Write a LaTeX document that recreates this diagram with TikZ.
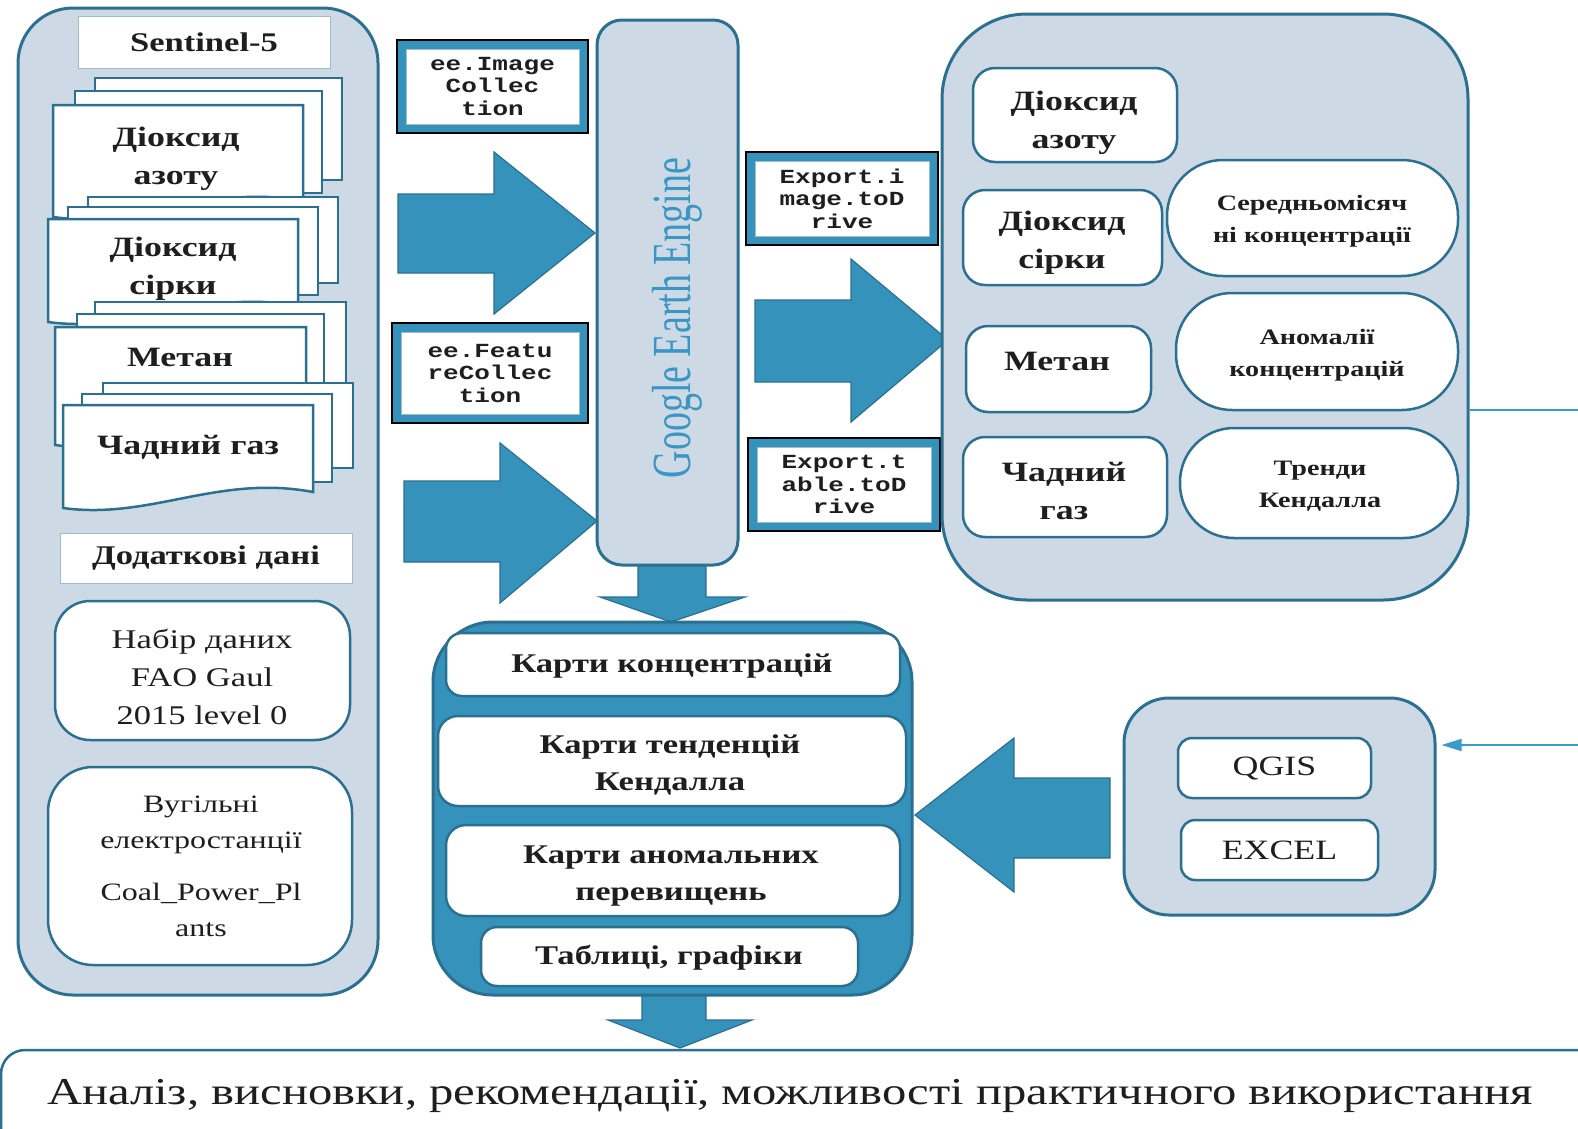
\documentclass[tikz,border=0pt]{standalone}
\usepackage{fontspec}
\setmainfont{Liberation Serif}[FakeStretch=1.28]
\setmonofont{Liberation Mono}[FakeStretch=1.3]
\newfontfamily\geefont{Liberation Serif}
\usetikzlibrary{arrows.meta,fit}
\definecolor{panelfill}{HTML}{CDDAE5}
\definecolor{edge}{HTML}{2B7090}
\definecolor{arrowfill}{HTML}{3592BA}
\definecolor{geeblue}{HTML}{3C96C4}
\definecolor{txt}{HTML}{1E1E1E}
\definecolor{thinedge}{HTML}{9FBCCB}
\definecolor{lineblue}{HTML}{3A9AC8}
\newcommand\frontsheet[4]{%
  \filldraw[sheet] (#1,#2) -- (#3,#2) -- (#3,{#4-16}) .. controls ({#1+0.62*(#3-#1)},{#4-34}) and ({#1+0.35*(#3-#1)},{#4+12}) .. (#1,#4) -- cycle;}
\begin{document}
\begin{tikzpicture}[x=1pt,y=-1pt,
  panel/.style={draw=edge, line width=3pt, fill=panelfill, inner sep=0pt},
  wbox/.style={draw=edge, line width=2.5pt, fill=white, inner sep=0pt},
  plainbox/.style={draw=thinedge, line width=1pt, fill=white, inner sep=0pt},
  sheet/.style={draw=edge, line width=2.5pt, fill=white, line join=miter},
  bold28/.style={font=\bfseries\fontsize{28}{38}\selectfont},
  bold27/.style={font=\bfseries\fontsize{27}{37}\selectfont},
  bold22/.style={font=\bfseries\fontsize{22}{32}\selectfont},
  reg27/.style={font=\fontsize{27}{38}\selectfont},
  reg28/.style={font=\fontsize{28}{34}\selectfont},
  lbl/.style={text=txt, align=center, inner sep=0pt},
  bigarrow/.style={fill=arrowfill, draw=edge, line width=1.2pt, line join=miter},
  codeframe/.style={draw=black, line width=2pt, fill=arrowfill, inner sep=0pt},
  codebox/.style={fill=white, draw=thinedge, line width=0.8pt, inner sep=0pt},
  codetext/.style={text=txt, align=center, inner sep=0pt,
     font=\ttfamily\bfseries\fontsize{20}{22.5}\selectfont}
]
\useasboundingbox (0,0) rectangle (1578,1128);
\fill[white] (0,0) rectangle (1578,1128);

% ---------- left panel ----------
\node[panel, rounded corners=55, fit={(18,8)(378,995)}] (leftpanel) {};
\node[plainbox, fit={(78,16)(330,68)}] (sentinel) {};
\node[lbl, bold27] (sentinelt) at (sentinel.center) {Sentinel-5};

% stack 1
\filldraw[sheet] (95,78) rectangle (342,180);
\filldraw[sheet] (75,91) rectangle (322,193);
\frontsheet{53}{105}{303}{217}
\node[lbl, bold28] (no2l) at (176,159) {Діоксид\\азоту};
% stack 2
\filldraw[sheet] (88,197) rectangle (338,283);
\filldraw[sheet] (68,207) rectangle (318,295);
\frontsheet{48}{219}{298}{322}
\node[lbl, bold28] (so2l) at (173,269) {Діоксид\\сірки};
% stack 3
\filldraw[sheet] (95,302) rectangle (346,395);
\filldraw[sheet] (77,314) rectangle (324,410);
\frontsheet{55}{327}{306}{445}
\node[lbl, bold28] (ch4l) at (180,357) {Метан};
% stack 4
\filldraw[sheet] (103,383) rectangle (353,468);
\filldraw[sheet] (82,394) rectangle (332,482);
\frontsheet{63}{405}{313}{508}
\node[lbl, bold28] (col) at (188,447) {Чадний газ};

\node[plainbox, fit={(60,533)(352,583)}] (extra) {};
\node[lbl, bold27] (extrat) at (extra.center) {Додаткові дані};
\node[wbox, rounded corners=35, fit={(55,601)(350,740)}] (fao) {};
\node[lbl, reg27] (faot) at (202,677) {Набір даних\\FAO Gaul\\2015 level 0};
\node[wbox, rounded corners=45, fit={(48,767)(352,965)}] (coal) {};
\node[lbl, font=\fontsize{25}{36}\selectfont] (coalt) at (201,866) {Вугільні\\електростанції\\[16pt]Coal\_Power\_Pl\\ants};

% ---------- code boxes ----------
\node[codeframe, fit={(397,40)(588,133)}] (c1) {};
\node[codebox, fit={(406,49)(579,124)}] (c1b) {};
\node[codetext] (c1t) at (c1b.center) {ee.Image\\Collec\\tion};
\node[codeframe, fit={(392,323)(588,423)}] (c2) {};
\node[codebox, fit={(401,332)(579,414)}] (c2b) {};
\node[codetext] (c2t) at (c2b.center) {ee.Featu\\reCollec\\tion};
\node[codeframe, fit={(746,152)(938,245)}] (c3) {};
\node[codebox, fit={(755,161)(929,236)}] (c3b) {};
\node[codetext] (c3t) at (c3b.center) {Export.i\\mage.toD\\rive};
\node[codeframe, fit={(748,438)(940,531)}] (c4) {};
\node[codebox, fit={(757,447)(931,522)}] (c4b) {};
\node[codetext] (c4t) at (c4b.center) {Export.t\\able.toD\\rive};

% ---------- GEE ----------
\node[panel, rounded corners=25, fit={(597,20)(738,565)}] (gee) {};
\node[rotate=90, text=geeblue, inner sep=0pt, font=\geefont\fontsize{38}{38}\selectfont] (geet) at (677,318) {\scalebox{1}[1.45]{Google Earth Engine}};

% ---------- arrows ----------
\draw[bigarrow] (398,194) -- (494,194) -- (494,152) -- (595,233) -- (494,314) -- (494,273) -- (398,273) -- cycle;
\draw[bigarrow] (404,481) -- (500,481) -- (500,443) -- (597,521) -- (500,603) -- (500,562) -- (404,562) -- cycle;
\draw[bigarrow] (755,300) -- (851,300) -- (851,259) -- (948,340) -- (851,422) -- (851,382) -- (755,382) -- cycle;
\draw[bigarrow] (1110,778) -- (1014,778) -- (1014,738) -- (915,815) -- (1014,892) -- (1014,858) -- (1110,858) -- cycle;
\draw[bigarrow] (638,566) -- (706,566) -- (706,597) -- (745,597) -- (671,622) -- (600,597) -- (638,597) -- cycle;
\draw[bigarrow] (642,995) -- (706,995) -- (706,1020) -- (752,1020) -- (680,1048) -- (608,1020) -- (642,1020) -- cycle;

% ---------- right panel ----------
\node[panel, rounded corners=85, fit={(942,14)(1468,600)}] (rpanel) {};
\node[wbox, rounded corners=22, fit={(973,68)(1177,162)}] (no2r) {};
\node[lbl, bold28] (no2rt) at (1074,123) {Діоксид\\азоту};
\node[wbox, rounded corners=22, fit={(963,190)(1162,285)}] (so2r) {};
\node[lbl, bold28] (so2rt) at (1062,243) {Діоксид\\сірки};
\node[wbox, rounded corners=22, fit={(966,326)(1151,412)}] (ch4r) {};
\node[lbl, bold28] (ch4rt) at (1057,361) {Метан};
\node[wbox, rounded corners=22, fit={(963,437)(1167,537)}] (cor) {};
\node[lbl, bold28] (cort) at (1064,491) {Чадний\\газ};
\node[wbox, rounded corners=56, fit={(1167,160)(1458,276)}] (mean) {};
\node[lbl, bold22] (meant) at (1312,221) {Середньомісяч\\ні концентрації};
\node[wbox, rounded corners=56, fit={(1176,293)(1458,410)}] (anom) {};
\node[lbl, bold22] (anomt) at (1317,355) {Аномалії\\концентрацій};
\node[wbox, rounded corners=54, fit={(1180,428)(1458,538)}] (trend) {};
\node[lbl, bold22] (trendt) at (1320,486) {Тренди\\Кендалла};

\coordinate (edgeA) at (1578,410);
\draw[lineblue, line width=1.5pt] (rpanel.east |- edgeA) -- (edgeA);

% ---------- bottom products panel ----------
\node[draw=edge, line width=3pt, fill=arrowfill, inner sep=0pt, rounded corners=60, fit={(433,622)(912,995)}] (prod) {};
\node[wbox, rounded corners=16, fit={(446,633)(900,696)}] (p1) {};
\node[lbl, bold27] (p1t) at (672,666) {Карти концентрацій};
\node[wbox, rounded corners=20, fit={(438,716)(906,806)}] (p2) {};
\node[lbl, bold27] (p2t) at (670,765) {Карти тенденцій\\Кендалла};
\node[wbox, rounded corners=20, fit={(446,825)(900,916)}] (p3) {};
\node[lbl, bold27] (p3t) at (671,876) {Карти аномальних\\перевищень};
\node[wbox, rounded corners=16, fit={(481,927)(858,986)}] (p4) {};
\node[lbl, bold27] (p4t) at (669,958) {Таблиці, графіки};

% ---------- QGIS panel ----------
\node[panel, rounded corners=45, fit={(1124,698)(1435,915)}] (qpanel) {};
\node[wbox, rounded corners=14, fit={(1178,738)(1371,798)}] (qgis) {};
\node[lbl, reg28] (qgist) at (qgis.center) {QGIS};
\node[wbox, rounded corners=14, fit={(1181,820)(1378,880)}] (excel) {};
\node[lbl, reg28] (excelt) at (excel.center) {EXCEL};
\coordinate (edgeB) at (1578,745);
\draw[lineblue, line width=1.5pt, -{Triangle[length=20pt,width=12pt]}] (edgeB) -- ([xshift=5pt]qpanel.east |- edgeB);

% ---------- final box ----------
\node[wbox, rounded corners=24, fit={(1,1050)(1660,1190)}] (final) {};
\node[lbl, font=\fontsize{38}{42}\selectfont] (finalt) at (790,1096) {Аналіз, висновки, рекомендації, можливості практичного використання};
\end{tikzpicture}
\end{document}
